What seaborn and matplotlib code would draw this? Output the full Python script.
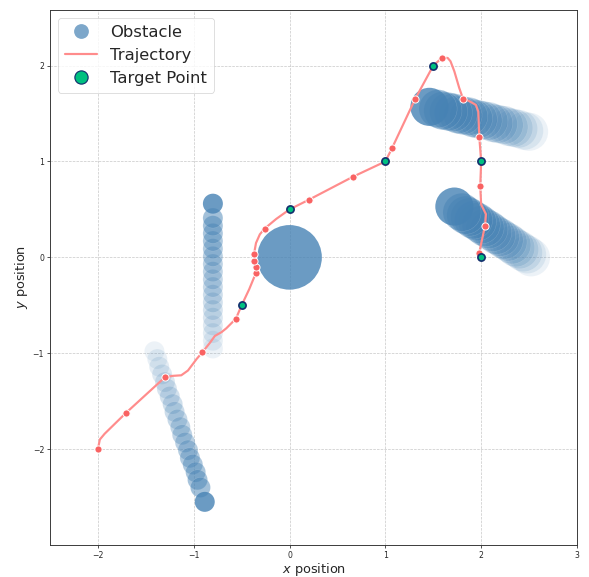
import numpy as np
import pandas as pd
import matplotlib
matplotlib.use("Agg")
import matplotlib.pyplot as plt
import seaborn as sns
from matplotlib.lines import Line2D

# trajectory
traj_x = [-2.00, -1.98, -1.93, -1.71, -1.30, -1.22, -1.13, -1.06, -0.97, -0.91,
          -0.83, -0.78, -0.71, -0.66, -0.56, -0.50, -0.42, -0.35, -0.365, -0.37,
          -0.35, -0.31, -0.26, -0.14, 0.00, 0.20, 0.66, 1.00, 1.07, 1.31,
          1.50, 1.59, 1.65, 1.68, 1.72, 1.77, 1.81, 1.875, 1.945, 1.97,
          1.98, 2.00, 1.99, 2.00, 2.05, 2.04, 1.98, 2.00]
traj_y = [-2.00, -1.90, -1.84, -1.625, -1.25, -1.236, -1.23, -1.18, -1.06, -0.99,
          -0.89, -0.82, -0.78, -0.74, -0.64, -0.50, -0.33, -0.16, -0.03, 0.04,
          0.15, 0.24, 0.30, 0.40, 0.50, 0.60, 0.84, 1.00, 1.14, 1.65,
          2.00, 2.08, 2.08, 2.045, 1.94, 1.77, 1.655, 1.63, 1.59, 1.52,
          1.26, 1.00, 0.74, 0.55, 0.45, 0.33, 0.05, 0.00]

# sample points along trajectory
node_x = [-2.00, -1.71, -1.30, -0.91, -0.56, -0.35, -0.355, -0.37, -0.37, -0.26,
          0.20, 0.66, 1.07, 1.31, 1.59, 1.81, 1.98, 1.99, 2.04, 1.98]
node_y = [-2.00, -1.625, -1.25, -0.99, -0.64, -0.16, -0.10, -0.035, 0.04, 0.30,
          0.60, 0.84, 1.14, 1.65, 2.08, 1.655, 1.26, 0.74, 0.33, 0.05]

target_x = [-0.5, 0.0, 1.0, 1.5, 2.0, 2.0]
target_y = [-0.5, 0.5, 1.0, 2.0, 1.0, 0.0]

# static obstacle
static_x = [0.0]
static_y = [0.0]

# moving obstacles: trail (old -> new) and current position
trail_a_x = [-0.80] * 18
trail_a_y = [-0.95, -0.87, -0.79, -0.71, -0.63, -0.55, -0.47, -0.39, -0.31,
             -0.23, -0.15, -0.07, 0.01, 0.09, 0.17, 0.25, 0.33, 0.41]
cur_a = (-0.80, 0.56)

trail_b_x = [-1.41, -1.38, -1.36, -1.33, -1.30, -1.28, -1.25, -1.22, -1.20, -1.17,
             -1.14, -1.12, -1.09, -1.06, -1.04, -1.01, -0.98, -0.96, -0.93]
trail_b_y = [-0.98, -1.06, -1.14, -1.22, -1.30, -1.37, -1.45, -1.53, -1.61, -1.69,
             -1.77, -1.85, -1.93, -2.01, -2.09, -2.16, -2.24, -2.32, -2.40]
cur_b = (-0.885, -2.55)

trail_c_x = [2.50, 2.45, 2.39, 2.34, 2.29, 2.24, 2.18, 2.13, 2.08, 2.02,
             1.97, 1.92, 1.87, 1.81, 1.76, 1.71, 1.66, 1.60, 1.55]
trail_c_y = [1.31, 1.32, 1.34, 1.35, 1.36, 1.38, 1.39, 1.40, 1.42, 1.43,
             1.44, 1.45, 1.47, 1.48, 1.49, 1.51, 1.52, 1.53, 1.55]
cur_c = (1.46, 1.57)

trail_d_x = [2.52, 2.48, 2.44, 2.40, 2.36, 2.32, 2.28, 2.24, 2.20, 2.16,
             2.12, 2.08, 2.04, 2.00, 1.96, 1.92, 1.88, 1.84, 1.80]
trail_d_y = [0.00, 0.03, 0.05, 0.08, 0.10, 0.13, 0.16, 0.18, 0.21, 0.23,
             0.26, 0.29, 0.31, 0.34, 0.37, 0.39, 0.42, 0.44, 0.47]
cur_d = (1.72, 0.53)

OBS = "steelblue"
DPI = 56

sns.set_theme(style="ticks")
plt.rcParams["font.family"] = ["DejaVu Sans"]

fig = plt.figure(figsize=(589 / DPI, 577 / DPI), dpi=DPI)
ax = fig.add_axes([50 / 589, 32 / 577, 527 / 589, 535 / 577])

# trails, fading out towards the oldest position
base = np.array(matplotlib.colors.to_rgba(OBS))
for tx, ty, size in [(trail_a_x, trail_a_y, 660), (trail_b_x, trail_b_y, 660),
                     (trail_c_x, trail_c_y, 2400), (trail_d_x, trail_d_y, 2400)]:
    cols = np.tile(base, (len(tx), 1))
    cols[:, 3] = np.linspace(0.1, 0.5, len(tx))
    ax.scatter(tx, ty, s=size, c=cols, edgecolors=(1, 1, 1, 0.2), linewidths=0.6, zorder=1)

cur = pd.DataFrame({"x": [cur_a[0], cur_b[0], cur_c[0], cur_d[0]],
                    "y": [cur_a[1], cur_b[1], cur_c[1], cur_d[1]],
                    "s": [660, 660, 2400, 2400]})
ax.scatter(cur["x"], cur["y"], s=cur["s"], color=OBS, alpha=0.8, edgecolors="none", zorder=2)
sns.scatterplot(x=static_x, y=static_y, s=6900, color=OBS, alpha=0.8,
                edgecolor="none", ax=ax, zorder=2, legend=False)

# trajectory
sns.lineplot(x=traj_x, y=traj_y, sort=False, estimator=None, color="#ff8c8c",
             linewidth=2.8, ax=ax, zorder=3)
sns.scatterplot(x=node_x, y=node_y, s=85, color="#f96262", edgecolor="white",
                linewidth=1.2, ax=ax, zorder=4, legend=False)
sns.scatterplot(x=target_x, y=target_y, s=85, color="#00c080", edgecolor="#14306e",
                linewidth=2.2, ax=ax, zorder=5, legend=False)

ax.set_xlim(-2.5, 3)
ax.set_ylim(-3, 2.58)
ax.set_xticks([-2, -1, 0, 1, 2, 3])
ax.set_yticks([-2, -1, 0, 1, 2])
ax.tick_params(labelsize=10, length=4, width=1)
ax.grid(True, linestyle="--", color="#bbbbbb", linewidth=0.9, alpha=0.8)
for sp in ax.spines.values():
    sp.set_color("#333333")
    sp.set_linewidth(1.2)
ax.set_xlabel("$x$ position", fontsize=16.5, labelpad=1)
ax.set_ylabel("$y$ position", fontsize=16.5)

handles = [
    Line2D([], [], marker="o", linestyle="none", markersize=19,
           markerfacecolor=OBS, markeredgecolor="none", alpha=0.7),
    Line2D([], [], color="#ff8c8c", linewidth=2.8),
    Line2D([], [], marker="o", linestyle="none", markersize=17,
           markerfacecolor="#00c080", markeredgecolor="#14306e", markeredgewidth=1.5),
]
ax.legend(handles, ["Obstacle", "Trajectory", "Target Point"], loc="upper left",
          fontsize=21, frameon=True)

fig.savefig("out.png", dpi=DPI)
